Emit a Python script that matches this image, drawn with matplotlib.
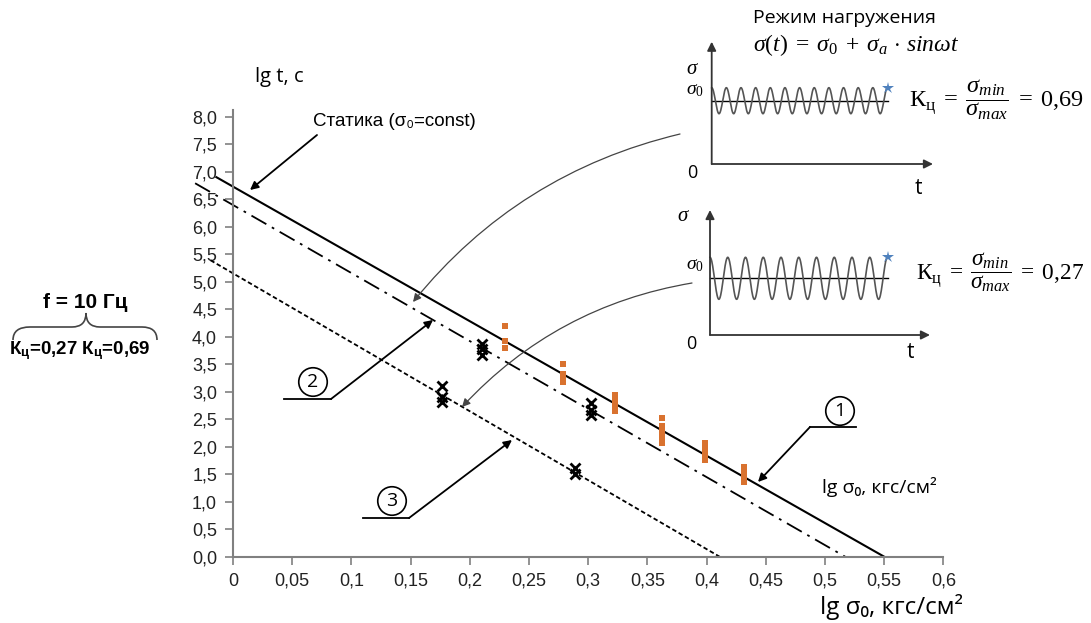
import numpy as np
import matplotlib
matplotlib.use('agg')
import matplotlib.pyplot as plt
from matplotlib.path import Path
from matplotlib.patches import PathPatch

plt.rcParams['mathtext.fontset'] = 'custom'
plt.rcParams['mathtext.rm'] = 'Liberation Serif'
plt.rcParams['mathtext.it'] = 'Liberation Serif:italic'
plt.rcParams['mathtext.bf'] = 'Liberation Serif:bold'
plt.rcParams['mathtext.sf'] = 'Liberation Sans:bold'

# axis ticks
x_ticks = [0, 0.05, 0.1, 0.15, 0.2, 0.25, 0.3, 0.35, 0.4, 0.45, 0.5, 0.55, 0.6]
x_tick_labels = ['0', '0,05', '0,1', '0,15', '0,2', '0,25', '0,3', '0,35',
                 '0,4', '0,45', '0,5', '0,55', '0,6']
y_ticks = [0, 0.5, 1, 1.5, 2, 2.5, 3, 3.5, 4, 4.5, 5, 5.5, 6, 6.5, 7, 7.5, 8]
y_tick_labels = ['0,0', '0,5', '1,0', '1,5', '2,0', '2,5', '3,0', '3,5', '4,0',
                 '4,5', '5,0', '5,5', '6,0', '6,5', '7,0', '7,5', '8,0']

# lines: 1 - statics, 2 - Kc=0.69, 3 - Kc=0.27
line1_x = [-0.014, 0.55]
line1_y = [6.90, 0.0]
line2_x = [-0.032, 0.517]
line2_y = [6.79, 0.0]
line3_x = [-0.019, 0.411]
line3_y = [5.39, 0.0]

# experimental points, static (orange squares)
static_x = [0.230, 0.230, 0.230,
            0.279, 0.279, 0.279, 0.279,
            0.3226, 0.3226, 0.3226, 0.3226,
            0.362, 0.362, 0.362, 0.362, 0.362,
            0.3986, 0.3986, 0.3986, 0.3986,
            0.432, 0.432, 0.432, 0.432]
static_y = [4.19, 3.93, 3.80,
            3.51, 3.33, 3.25, 3.18,
            2.94, 2.85, 2.75, 2.65,
            2.53, 2.38, 2.28, 2.18, 2.07,
            2.06, 1.96, 1.86, 1.76,
            1.64, 1.54, 1.44, 1.36]

# experimental points, cyclic (black crosses)
cyclic_x = [0.1768, 0.1768, 0.1768, 0.21, 0.21, 0.21,
            0.302, 0.302, 0.302, 0.289, 0.289]
cyclic_y = [3.10, 2.90, 2.82, 3.87, 3.77, 3.67,
            2.80, 2.67, 2.57, 1.62, 1.50]

# loading schemes: number of cycles drawn in each inset, Kc values
wave_cycles = [12, 10]
kc_labels = ['0{,}69', '0{,}27']

W, H = 1091, 623
fig = plt.figure(figsize=(W / 100, H / 100), dpi=100)

ax = fig.add_axes([233 / W, 66.3 / H, 710.4 / W, 446.6 / H])
ax.set_xlim(0, 0.6)
ax.set_ylim(0, 8.12)
for s in ['top', 'right']:
    ax.spines[s].set_visible(False)
for s in ['left', 'bottom']:
    ax.spines[s].set_color('#808080')
    ax.spines[s].set_linewidth(1.5)
ax.set_xticks(x_ticks)
ax.set_xticklabels(x_tick_labels)
ax.set_yticks(y_ticks)
ax.set_yticklabels(y_tick_labels)
ax.tick_params(direction='out', length=6, width=1.2, color='#808080',
               labelsize=13, pad=5.5, labelcolor='#222222')
for lab in ax.get_xticklabels() + ax.get_yticklabels():
    lab.set_family('Liberation Sans')

ax.plot(line1_x, line1_y, color='black', lw=1.5, clip_on=False)
ax.plot(line2_x, line2_y, color='black', lw=1.3, clip_on=False,
        dashes=(9.5, 3.5, 1.5, 3.5))
ax.plot(line3_x, line3_y, color='black', lw=1.3, clip_on=False,
        dashes=(2.5, 1.5))
ax.plot(static_x, static_y, 's', color='#D9722F', ms=5, mew=0, clip_on=False)
ax.plot(cyclic_x, cyclic_y, 'x', color='black', ms=6.5, mew=2, clip_on=False)

# overlay in pixel coordinates for annotations
ov = fig.add_axes([0, 0, 1, 1])
ov.set_xlim(0, W)
ov.set_ylim(H, 0)
ov.axis('off')

sans = ['Liberation Sans', 'DejaVu Sans']
calib = ['Open Sans', 'DejaVu Sans']

ov.text(255, 77, 'lg t, с', family=calib, fontsize=14.5, va='center')
ov.text(313, 121, 'Статика (σ₀=const)', family=sans, fontsize=13.5, va='center')
ov.text(822, 487, 'lg σ₀, кгс/см²', family=calib, fontsize=14, va='center')
ov.text(820, 607, 'lg σ₀, кгс/см²', family=calib, fontsize=17.5, va='center')

arrow = dict(arrowstyle='-|>', color='black', lw=1.3, mutation_scale=12,
             shrinkA=0, shrinkB=0)
ov.annotate('', xy=(250, 190), xytext=(317, 135), arrowprops=arrow)

# numbered leaders
for num, (cx, cy), (hx0, hx1, hy), kink, tip in [
        ('1', (840, 411), (810, 856, 427), (810, 427), (758, 482)),
        ('2', (313, 382), (284, 331, 399), (331, 399), (433, 320)),
        ('3', (392, 501), (363, 409, 518), (409, 518), (512, 440))]:
    ov.plot([hx0, hx1], [hy, hy], color='black', lw=1.3)
    ov.annotate('', xy=tip, xytext=kink, arrowprops=arrow)
    ov.text(cx, cy, num, family=calib, fontsize=14, ha='center', va='center',
            bbox=dict(boxstyle='circle,pad=0.27', fc='white', ec='black', lw=1.2))

# curved pointers from insets
thin = dict(arrowstyle='-|>', color='#444444', lw=0.9, mutation_scale=12,
            shrinkA=0, shrinkB=0, connectionstyle='arc3,rad=0.17')
ov.annotate('', xy=(413, 302), xytext=(680, 134), arrowprops=thin)
ov.annotate('', xy=(462, 407), xytext=(692, 283), arrowprops=thin)

# insets with loading schemes
insets = [
    # x0, y_bottom, x_arrow, y_top, y_center, amplitude,
    # sigma pos, sigma0 pos, t pos, kc pos, kc size
    (711.7, 164, 933, 41.7, 100.7, 13, (692, 68), (695, 90), (918, 188), (909, 100), 17.6),
    (710, 335, 930, 210, 278.3, 21, (683, 215), (695, 265), (910, 353), (916, 272), 16.8),
]
ax_arrow = dict(arrowstyle='-|>', color='#333333', lw=1.3, mutation_scale=13,
                shrinkA=0, shrinkB=0)
for i, (x0, yb, xa, yt, yc, amp, p_s, p_s0, p_t, p_k, ksize) in enumerate(insets):
    cyc = wave_cycles[i]
    ov.annotate('', xy=(x0, yt), xytext=(x0, yb), arrowprops=ax_arrow)
    ov.annotate('', xy=(xa, yb), xytext=(x0, yb), arrowprops=ax_arrow)
    x1 = 887.5
    ov.plot([x0, x1], [yc, yc], color='black', lw=1.0)
    xs = np.linspace(x0, x1, 600)
    ov.plot(xs, yc - amp * np.cos(2 * np.pi * cyc * (xs - x0) / (x1 - x0)),
            color='#555555', lw=1.2)
    ov.plot([x1], [yc - amp], '*', color='#4F81BD', ms=9, mew=0)
    ov.text(*p_s, r'$\sigma$', fontsize=15, ha='center', va='center')
    ov.text(*p_s0, r'$\sigma_0$', fontsize=14, ha='center', va='center')
    ov.text(x0 - 19, yb + 9, '0', family=calib, fontsize=13, ha='center', va='center')
    ov.text(*p_t, 't', family=calib, fontsize=15, ha='center', va='center')
    ov.text(*p_k,
            r'$\mathrm{К}_{\mathrm{ц}}\;=\;\dfrac{\sigma_{min}}{\sigma_{max}}\;=\;'
            + kc_labels[i] + '$',
            fontsize=ksize, va='center', ha='left')

ov.text(753, 18, 'Режим нагружения', family=calib, fontsize=14, va='center')
ov.text(753, 45, r'$\sigma(t)\;=\;\sigma_0\;+\;\sigma_a\,\cdot\,sin\omega t$',
        fontsize=17, va='center')

# left legend with brace
ov.text(85, 303, 'f = 10 Гц', family=sans, fontsize=15, fontweight='bold',
        ha='center', va='center')
verts = [(13, 340), (13, 327), (30, 327), (72, 327), (86, 327), (86, 313),
         (86, 327), (100, 327), (142, 327), (157, 327), (157, 340)]
codes = [Path.MOVETO, Path.CURVE3, Path.CURVE3, Path.LINETO, Path.CURVE3,
         Path.CURVE3, Path.CURVE3, Path.CURVE3, Path.LINETO, Path.CURVE3,
         Path.CURVE3]
ov.add_patch(PathPatch(Path(verts, codes), fc='none', ec='#444444', lw=1.2))
ov.text(9, 351, r'$\mathsf{К}_{\mathsf{ц}}$=0,27 $\mathsf{К}_{\mathsf{ц}}$=0,69',
        family=sans, fontsize=13.5, fontweight='bold', va='center')

fig.savefig('out.png', dpi=100)
